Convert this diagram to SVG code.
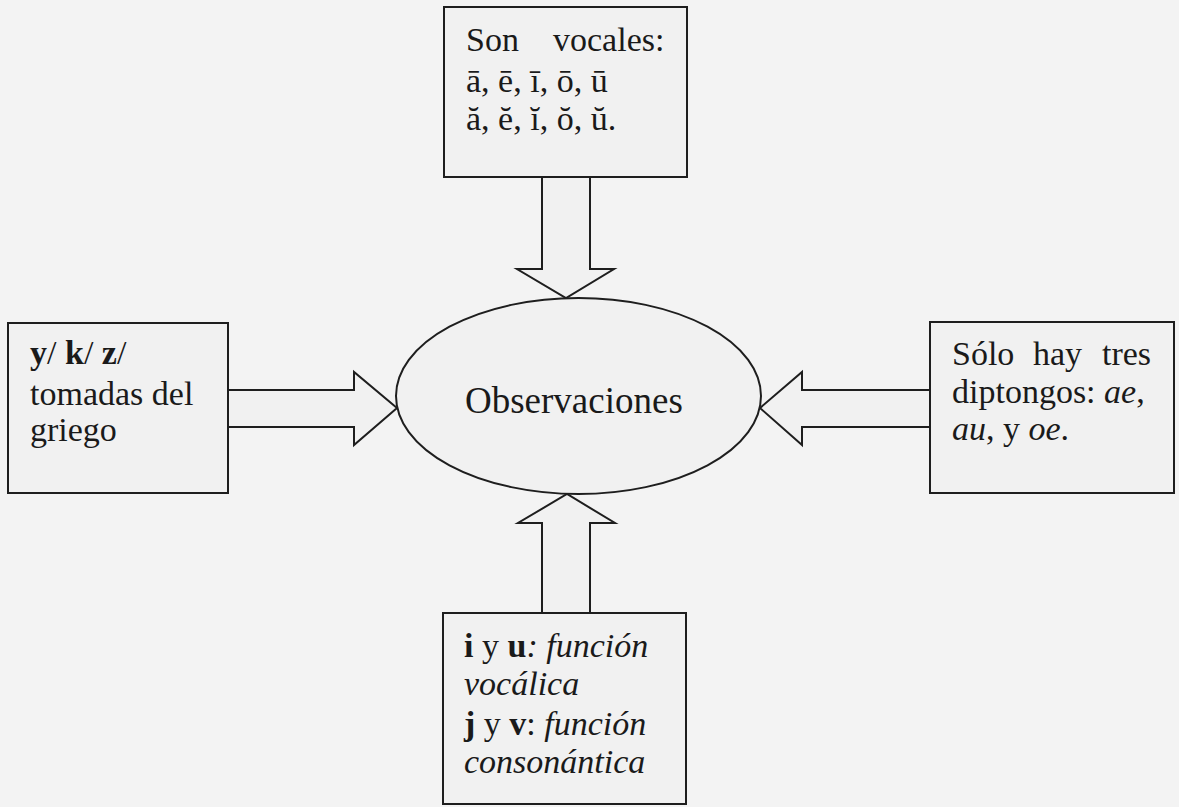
<svg xmlns="http://www.w3.org/2000/svg" width="1179" height="807" viewBox="0 0 1179 807">
<style>
.box{fill:#f1f1f1;stroke:#1e1e1e;stroke-width:2}
.arr{fill:#f1f1f1;stroke:#1e1e1e;stroke-width:2;stroke-linejoin:miter}
.t{font-family:"Liberation Serif","Times New Roman",serif;font-size:34px;fill:#1a1a1a}
.b{font-weight:bold}
.i{font-style:italic}
</style>
<rect x="0" y="0" width="1179" height="807" fill="#f3f3f3"/>
<g id="connectors">
<polyline class="arr" points="542,177 542,269 517,269 566,298 614,269 590,269 590,177"/>
<polyline class="arr" points="542,613 542,523 518,523 567,494 615,523 590,523 590,613"/>
<polyline class="arr" points="228,390 354,390 354,372 397,408 354,445 354,427 228,427"/>
<polyline class="arr" points="930,390 802,390 802,372 760,408 802,445 802,427 930,427"/>
</g>
<g id="center">
<ellipse class="box" cx="578.5" cy="396" rx="182.5" ry="98"/>
<text class="t" x="465" y="413" font-size="37" style="font-size:37px">Observaciones</text>
</g>
<g id="top">
<rect class="box" x="444" y="7" width="243" height="170"/>
<text class="t" y="51"><tspan x="466">Son</tspan><tspan x="553">vocales:</tspan></text>
<text class="t" x="466" y="92">ā, ē, ī, ō, ū</text>
<text class="t" x="466" y="130">ă, ĕ, ĭ, ŏ, ŭ.</text>
</g>
<g id="left">
<rect class="box" x="8" y="323" width="220" height="170"/>
<text class="t" x="30" y="364"><tspan class="b">y</tspan>/ <tspan class="b">k</tspan>/ <tspan class="b">z</tspan>/</text>
<text class="t" x="30" y="405">tomadas del</text>
<text class="t" x="30" y="441">griego</text>
</g>
<g id="right">
<rect class="box" x="930" y="322" width="244" height="171"/>
<text class="t" y="365"><tspan x="952">Sólo</tspan><tspan x="1033">hay</tspan><tspan x="1102">tres</tspan></text>
<text class="t" x="952" y="403">diptongos: <tspan class="i">ae</tspan>,</text>
<text class="t" y="440"><tspan x="952" class="i">au</tspan>,<tspan x="1003">y</tspan> <tspan class="i">oe</tspan>.</text>
</g>
<g id="bottom">
<rect class="box" x="443" y="613" width="243" height="191"/>
<text class="t" x="464" y="657"><tspan class="b">i</tspan> y <tspan class="b">u</tspan><tspan class="i">: función</tspan></text>
<text class="t i" x="464" y="695">vocálica</text>
<text class="t" x="464" y="735"><tspan class="b">j</tspan> y <tspan class="b">v</tspan>:<tspan class="i"> función</tspan></text>
<text class="t i" x="464" y="773">consonántica</text>
</g>
</svg>
